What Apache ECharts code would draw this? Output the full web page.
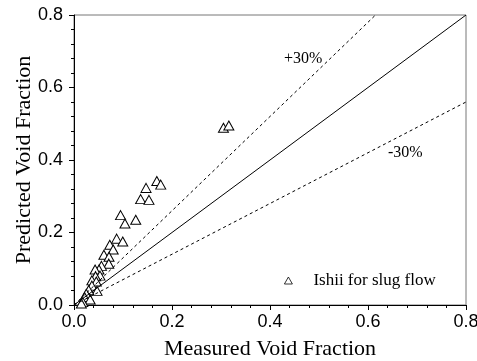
<!DOCTYPE html>
<html><head><meta charset="utf-8">
<script src="https://cdn.jsdelivr.net/npm/echarts@6/dist/echarts.min.js"></script>
<style>html,body{margin:0;padding:0;background:#fff}#c{width:477px;height:361px}</style>
</head><body><div id="c"></div>
<script>
const measured = [0.169,0.177,0.147,0.136,0.153,0.095,0.104,0.126,0.087,0.0995,0.073,0.080,0.061,0.0715,0.071,0.056,0.051,0.043,0.053,0.044,0.0365,0.0455,0.0365,0.047,0.030,0.025,0.0215,0.033,0.018,0.015,0.305,0.316];
const predicted = [0.342,0.332,0.323,0.292,0.290,0.248,0.225,0.235,0.183,0.175,0.166,0.153,0.1385,0.133,0.114,0.108,0.098,0.098,0.081,0.0795,0.068,0.0646,0.0535,0.039,0.041,0.031,0.022,0.015,0.008,0.004,0.489,0.495];
const perfectLine = [[0,0],[0.8,0.8]];
const plusLine = [[0,0],[0.8/1.3,0.8]];
const minusLine = [[0,0],[0.8,0.56]];
const ticks = [0,0.2,0.4,0.6,0.8];

const chart = echarts.init(document.getElementById('c'));
const sans = "Liberation Sans";
const serif = "Liberation Serif";
const axisCommon = {
  min: 0, max: 0.8, interval: 0.2,
  axisLine: {show: true, onZero: false, lineStyle: {color: '#000', width: 1}},
  axisTick: {show: true, inside: false, length: 5, lineStyle: {color: '#000'}},
  minorTick: {show: true, splitNumber: 5, length: 3, lineStyle: {color: '#000'}},
  splitLine: {show: false},
  axisLabel: {color: '#000', fontFamily: sans, fontSize: 18, formatter: v => v.toFixed(1)},
  nameLocation: 'middle',
  nameMoveOverlap: false,
  nameTextStyle: {color: '#000', fontFamily: serif, fontSize: 22}
};
chart.setOption({
  animation: false,
  grid: {left: 74, right: 11, top: 15, bottom: 56, containLabel: false, outerBoundsMode: 'none',
         show: true, borderColor: '#777', borderWidth: 1},
  xAxis: Object.assign({}, axisCommon, {type: 'value', name: 'Measured Void Fraction', nameGap: 33,
     axisLabel: Object.assign({}, axisCommon.axisLabel, {margin: 8})}),
  yAxis: Object.assign({}, axisCommon, {type: 'value', name: 'Predicted Void Fraction', nameGap: 39,
     axisLabel: Object.assign({}, axisCommon.axisLabel, {margin: 11})}),
  legend: {
    left: 279, top: 267, itemWidth: 8, itemHeight: 7, itemGap: 4,
    itemStyle: {color: '#fff', borderColor: '#000', borderWidth: 0.8},
    textStyle: {fontFamily: serif, fontSize: 17, color: '#000', padding: [0,0,0,16]},
    data: [{name: 'Ishii for slug flow', icon: 'triangle'}]
  },
  graphic: [
    {type: 'text', left: 284, top: 51, style: {text: '+30%', font: "16px 'Liberation Serif'", fill: '#000'}},
    {type: 'text', left: 388, top: 145, style: {text: '-30%', font: "16px 'Liberation Serif'", fill: '#000'}}
  ],
  series: [
    {type: 'line', data: perfectLine, symbol: 'none', lineStyle: {color: '#000', width: 1}, silent: true},
    {type: 'line', data: plusLine, symbol: 'none', lineStyle: {color: '#000', width: 1, type: [3, 3]}, silent: true},
    {type: 'line', data: minusLine, symbol: 'none', lineStyle: {color: '#000', width: 1, type: [3, 3]}, silent: true},
    {type: 'scatter', name: 'Ishii for slug flow', symbol: 'triangle', symbolSize: [10, 9],
     itemStyle: {color: '#fff', borderColor: '#000', borderWidth: 1, opacity: 1},
     data: measured.map((m, i) => [m, predicted[i]])}
  ]
});
</script></body></html>
